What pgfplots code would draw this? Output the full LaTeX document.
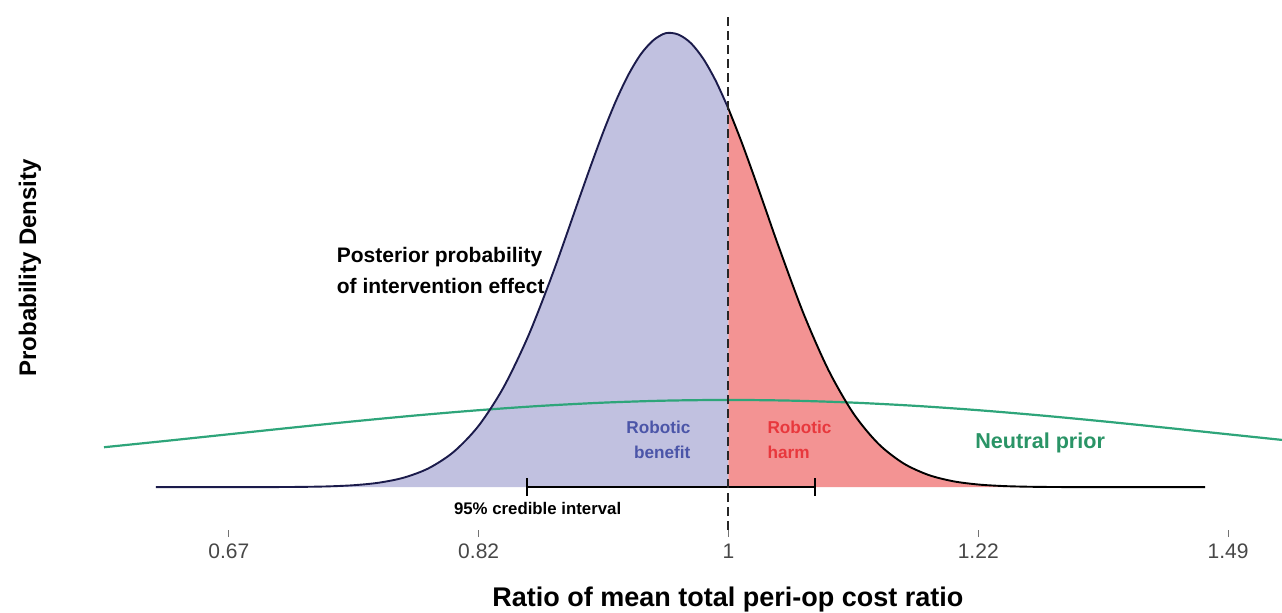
\documentclass[border=0pt]{standalone}
\usepackage{fontspec}
\setmainfont{Liberation Sans}
\usepackage{pgfplots}
\usepackage{pgfplotstable}
\pgfplotsset{compat=1.18}
\definecolor{postfill}{HTML}{C1C1E0}
\definecolor{harmfill}{HTML}{F39393}
\definecolor{postline}{HTML}{1B1B4B}
\definecolor{priorgreen}{HTML}{2EA57A}
\definecolor{priortext}{HTML}{2A9466}
\definecolor{benefitblue}{HTML}{4B55A8}
\definecolor{harmred}{HTML}{E8383D}
\pgfplotstableread{
x y
-0.4584 0
-0.44 0.00001
-0.42 0.00003
-0.40 0.00013
-0.38 0.00042
-0.36 0.00125
-0.34 0.00348
-0.32 0.0091
-0.30 0.0223
-0.28 0.0509
-0.26 0.1087
-0.24 0.2166
-0.22 0.404
-0.20 0.703
-0.18 1.144
-0.16 1.739
-0.14 2.471
-0.12 3.282
-0.11 3.685
-0.10 4.071
-0.09 4.421
-0.08 4.720
-0.07 4.955
-0.06 5.113
-0.05 5.193
-0.04 5.176
-0.03 5.077
-0.02 4.896
-0.01 4.642
0 4.328
}\benefit
\pgfplotstableread{
x y
0 4.328
0.01 3.966
0.02 3.574
0.03 3.167
0.04 2.759
0.06 1.989
0.08 1.341
0.10 0.844
0.12 0.4967
0.14 0.2732
0.16 0.1404
0.18 0.0673
0.20 0.0302
0.22 0.0127
0.24 0.00496
0.26 0.0018
0.28 0.0006
0.30 0.0002
0.34 0.00001
0.3816 0
}\harm
\pgfplotstableread{
x y
-0.5 0.4566
-0.45 0.5297
-0.4 0.6049
-0.35 0.680
-0.3 0.7528
-0.25 0.8205
-0.2 0.8802
-0.15 0.9297
-0.1 0.9667
-0.05 0.9896
0 0.9974
0.05 0.9896
0.1 0.9667
0.15 0.9297
0.2 0.8802
0.25 0.8205
0.3 0.7528
0.35 0.680
0.4 0.6049
0.4432 0.5403
}\prior
\begin{document}
\begin{tikzpicture}
\begin{axis}[
  scale only axis, width=589pt, height=258.5pt,
  xmin=-0.5, xmax=0.4432, ymin=-0.49, ymax=5.423,
  axis line style={draw=none},
  ytick=\empty,
  xtick={-0.4,-0.2,0,0.2,0.4},
  xticklabels={0.67,0.82,1,1.22,1.49},
  xtick pos=left, tick align=outside, major tick length=3.5pt,
  xtick style={draw=black!55, line width=0.5pt},
  xticklabel style={font=\fontsize{10.5}{12}\selectfont, text=black!72},
  /pgf/number format/assume math mode=true,
  xlabel={Ratio of mean total peri-op cost ratio},
  xlabel style={font=\fontsize{13.5}{16}\selectfont\bfseries, at={(axis description cs:0.5297,-0.1354)}, anchor=center},
  ylabel={Probability Density},
  ylabel style={font=\fontsize{12}{14}\selectfont\bfseries, at={(axis description cs:-0.0628,0.507)}, anchor=center},
]
\addplot[fill=postfill, draw=none, smooth] table {\benefit} \closedcycle;
\addplot[fill=harmfill, draw=none, smooth] table {\harm} \closedcycle;
\addplot[priorgreen, line width=1.1pt, smooth] table {\prior};
\addplot[postline, line width=0.95pt, smooth] table {\benefit};
\addplot[black, line width=0.95pt, smooth] table {\harm};
% 95% credible interval
\addplot[black, line width=1.1pt, mark=|, mark size=4.5pt, mark options={line width=1.1pt}] coordinates {(-0.1616,0) (0.0696,0)};
% null line
\addplot[black!85, line width=1pt, dash pattern=on 4.5pt off 2.5pt] coordinates {(0,-0.49) (0,5.423)};
% annotations
\node[anchor=west, align=left, font=\fontsize{10.5}{15.5}\selectfont\bfseries] at (axis cs:-0.3192,2.482) {Posterior probability\\of intervention effect};
\node[anchor=east, align=right, text=benefitblue, font=\fontsize{8.6}{12.5}\selectfont\bfseries] at (axis cs:-0.0248,0.5376) {Robotic\\benefit};
\node[anchor=west, align=left, text=harmred, font=\fontsize{8.6}{12.5}\selectfont\bfseries] at (axis cs:0.0256,0.5376) {Robotic\\harm};
\node[text=priortext, font=\fontsize{10.8}{13}\selectfont\bfseries] at (axis cs:0.2496,0.503) {Neutral prior};
\node[font=\fontsize{8.4}{10}\selectfont\bfseries] at (axis cs:-0.1528,-0.240) {95\% credible interval};
\end{axis}
\pgfresetboundingbox
\path (-52pt,-41pt) rectangle (589pt,265pt);
\end{tikzpicture}
\end{document}
